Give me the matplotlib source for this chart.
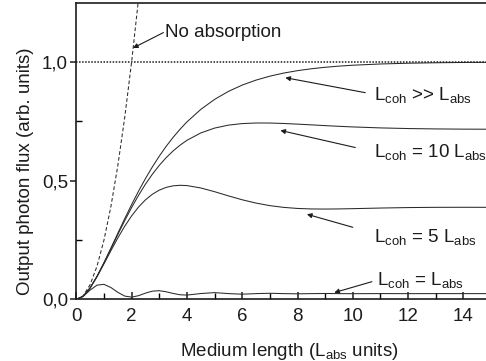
import matplotlib
matplotlib.use("Agg")
import matplotlib.pyplot as plt
from matplotlib.ticker import FixedLocator, FixedFormatter

plt.rcParams['font.family'] = ['Liberation Sans', 'DejaVu Sans']
plt.rcParams['mathtext.fontset'] = 'custom'
plt.rcParams['mathtext.rm'] = 'Liberation Sans'
plt.rcParams['mathtext.it'] = 'Liberation Sans'

# Medium length in units of the absorption length
length = [0, 0.25, 0.5, 0.75, 1, 1.25, 1.5, 1.75, 2, 2.25, 2.5, 2.75, 3, 3.25,
          3.5, 3.75, 4, 4.5, 5, 5.5, 6, 6.5, 7, 7.5, 8, 8.5, 9, 9.5, 10,
          11, 12, 13, 14, 15]

# Output photon flux for different coherence lengths
flux_coh_inf = [0, 0.0138, 0.0489, 0.0978, 0.1548, 0.2159, 0.2784, 0.3400,
                0.3996, 0.4560, 0.5091, 0.5583, 0.6035, 0.6450, 0.6826, 0.7167,
                0.7477, 0.8003, 0.8426, 0.8763, 0.9029, 0.9239, 0.9405, 0.9535,
                0.9637, 0.9717, 0.9779, 0.9828, 0.9866, 0.9918, 0.9950, 0.9970,
                0.9982, 0.9989]
flux_coh_10 = [0, 0.0138, 0.0488, 0.0974, 0.1536, 0.2132, 0.2734, 0.3319,
               0.3872, 0.4385, 0.4854, 0.5274, 0.5647, 0.5973, 0.6255, 0.6497,
               0.6702, 0.7013, 0.7218, 0.7343, 0.7408, 0.7433, 0.7431, 0.7412,
               0.7385, 0.7354, 0.7322, 0.7293, 0.7267, 0.7226, 0.7199, 0.7183,
               0.7174, 0.7170]
flux_coh_5 = [0, 0.0138, 0.0485, 0.0960, 0.1499, 0.2053, 0.2589, 0.3083,
              0.3520, 0.3892, 0.4195, 0.4431, 0.4605, 0.4721, 0.4786, 0.4809,
              0.4797, 0.4697, 0.4540, 0.4364, 0.4199, 0.4060, 0.3953, 0.3879,
              0.3834, 0.3813, 0.3808, 0.3814, 0.3825, 0.3851, 0.3871, 0.3881,
              0.3883, 0.3881]
flux_coh_1 = [0, 0.0131, 0.0397, 0.0604, 0.0638, 0.0505, 0.0302, 0.0144,
              0.0099, 0.0160, 0.0267, 0.0351, 0.0370, 0.0325, 0.0255, 0.0199,
              0.0185, 0.0250, 0.0289, 0.0248, 0.0223, 0.0247, 0.0262, 0.0247,
              0.0238, 0.0247, 0.0253, 0.0247, 0.0244, 0.0249, 0.0246, 0.0248,
              0.0247, 0.0247]

# Flux without absorption
length_noabs = [0, 0.25, 0.5, 0.75, 1, 1.25, 1.5, 1.75, 2, 2.25, 2.5]
flux_noabs = [0, 0.0156, 0.0625, 0.1406, 0.25, 0.3906, 0.5625, 0.7656, 1.0,
              1.2656, 1.5625]

limit_level = 1.0

x_major = [0, 2, 4, 6, 8, 10, 12, 14]
x_minor = [1, 3, 5, 7, 9, 11, 13, 15]
y_major = [0.0, 0.5, 1.0]
y_major_labels = ['0,0', '0,5', '1,0']
y_minor = [0.25, 0.75]

fig = plt.figure(figsize=(4.86, 3.61), dpi=100)
ax = fig.add_axes([0.157, 0.1704, 0.8534, 0.8222])

ink = '#1c1c1c'
curve_ink = '#2a2a2a'
lw = 0.75
ax.plot(length, flux_coh_inf, color=curve_ink, lw=lw)
ax.plot(length, flux_coh_10, color=curve_ink, lw=lw)
ax.plot(length, flux_coh_5, color=curve_ink, lw=lw)
ax.plot(length, flux_coh_1, color=curve_ink, lw=lw)
ax.plot(length_noabs, flux_noabs, color=curve_ink, lw=0.75,
        linestyle=(0, (3.5, 2.2)))
ax.axhline(limit_level, color=ink, lw=1.1, linestyle=(0, (1, 1)))

ax.set_xlim(0, 15)
ax.set_ylim(0, 1.25)

ax.xaxis.set_major_locator(FixedLocator(x_major))
ax.xaxis.set_minor_locator(FixedLocator(x_minor))
ax.yaxis.set_major_locator(FixedLocator(y_major))
ax.yaxis.set_major_formatter(FixedFormatter(y_major_labels))
ax.yaxis.set_minor_locator(FixedLocator(y_minor))

ax.tick_params(axis='x', which='major', direction='in', length=5, width=1.1,
               labelsize=13.5, pad=6, colors=ink)
ax.tick_params(axis='x', which='minor', direction='in', length=4, width=1.0)
ax.tick_params(axis='y', which='major', direction='out', length=4, width=1.1,
               labelsize=13.5, pad=2, colors=ink)
ax.tick_params(axis='y', which='minor', direction='in', length=4, width=1.0)

for side in ('left', 'bottom', 'top', 'right'):
    ax.spines[side].set_linewidth(1.2)
    ax.spines[side].set_color(ink)

fig.text(25 / 486, 1 - 171 / 361, 'Output photon flux (arb. units)',
         rotation=90, ha='center', va='center', fontsize=13.5, color=ink)
fig.text(180 / 486, 1 - 356 / 361, r'Medium length (L$_\mathrm{abs}$ units)',
         ha='left', va='baseline', fontsize=13.5, color=ink)

arrow = dict(arrowstyle='-|>', lw=0.8, color=ink, mutation_scale=7,
             shrinkA=0, shrinkB=0)
fs = 13.5

ax.annotate('', xy=(2.05, 1.059), xytext=(3.15, 1.124), arrowprops=arrow)
ax.text(3.22, 1.124, 'No absorption', fontsize=fs, color=ink,
        ha='left', va='center')

ax.annotate('', xy=(7.56, 0.934), xytext=(10.45, 0.871), arrowprops=arrow)
ax.text(10.78, 0.841, r'L$_\mathrm{coh}$ >> L$_\mathrm{abs}$', fontsize=fs,
        color=ink, ha='left', va='baseline')

ax.annotate('', xy=(7.38, 0.712), xytext=(10.09, 0.64), arrowprops=arrow)
ax.text(10.78, 0.601, r'L$_\mathrm{coh}$ = 10 L$_\mathrm{abs}$', fontsize=fs,
        color=ink, ha='left', va='baseline', clip_on=False)

ax.annotate('', xy=(8.34, 0.359), xytext=(10.0, 0.304), arrowprops=arrow)
ax.text(10.78, 0.244, r'L$_\mathrm{coh}$ = 5 L$_\mathrm{abs}$', fontsize=fs,
        color=ink, ha='left', va='baseline')

ax.annotate('', xy=(9.33, 0.029), xytext=(10.69, 0.075), arrowprops=arrow)
ax.text(10.87, 0.061, r'L$_\mathrm{coh}$ = L$_\mathrm{abs}$', fontsize=fs,
        color=ink, ha='left', va='baseline')

fig.savefig('out.png', dpi=100)
